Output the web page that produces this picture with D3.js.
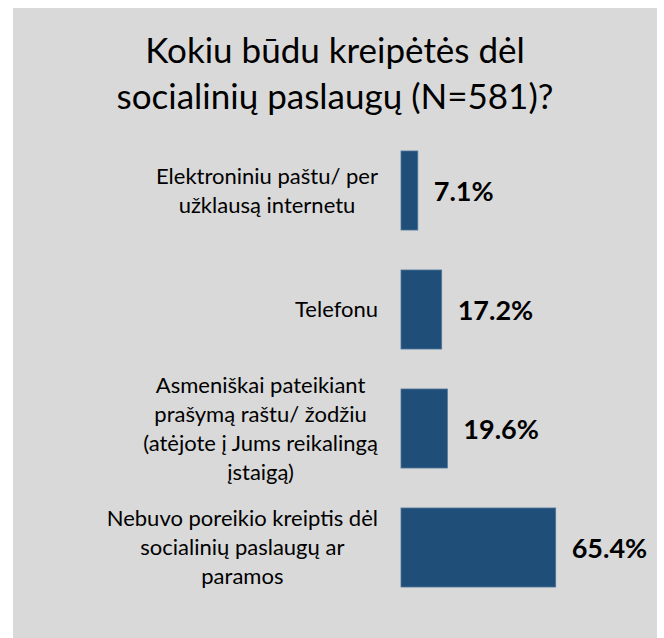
<!DOCTYPE html>
<html>
<head>
<meta charset="utf-8">
<script src="https://cdn.jsdelivr.net/npm/d3@7"></script>
<style>
  body { margin: 0; background: #fff; }
  svg text { font-family: Lato, "Open Sans", sans-serif; fill: #000; }
</style>
</head>
<body>
<div id="chart"></div>
<script>
// chart data
var titleLines = ["Kokiu būdu kreipėtės dėl", "socialinių paslaugų (N=581)?"];
var categories = [
  ["Elektroniniu paštu/ per", "užklausą internetu"],
  ["Telefonu"],
  ["Asmeniškai pateikiant", "prašymą raštu/ žodžiu", "(atėjote į Jums reikalingą", "įstaigą)"],
  ["Nebuvo poreikio kreiptis dėl", "socialinių paslaugų ar", "paramos"]
];
var values = [7.1, 17.2, 19.6, 65.4];

var width = 664;
var height = 638;

var svg = d3.select('#chart')
  .append('svg')
  .attr('width', width)
  .attr('height', height);

// grey panel
svg.append('rect')
  .attr('x', 13)
  .attr('y', 8)
  .attr('width', 644)
  .attr('height', 630)
  .attr('fill', '#d9d9d9');

// title
svg.append('g')
  .selectAll('text')
  .data(titleLines)
  .enter().append('text')
    .attr('x', 335)
    .attr('y', function(d, i) { return 63 + i * 46; })
    .attr('text-anchor', 'middle')
    .style('font-size', '35px')
    .text(function(d) { return d; });

var x = d3.scaleLinear()
  .domain([0, 100])
  .range([401, 637.5]);

var y = d3.scaleBand()
  .domain(d3.range(values.length))
  .range([131, 607])
  .paddingInner(0.336)
  .paddingOuter(0.168);

// bars
svg.append('g')
  .selectAll('rect')
  .data(values)
  .enter().append('rect')
    .attr('x', x(0))
    .attr('y', function(d, i) { return y(i); })
    .attr('width', function(d) { return x(d) - x(0); })
    .attr('height', y.bandwidth())
    .attr('fill', '#1f4e79')
    .attr('stroke', '#4f7499')
    .attr('stroke-width', 0.8);

// value labels
svg.append('g')
  .selectAll('text')
  .data(values)
  .enter().append('text')
    .attr('x', function(d) { return x(d) + 16; })
    .attr('y', function(d, i) { return y(i) + y.bandwidth() / 2 + 10.5; })
    .style('font-size', '27px')
    .style('font-weight', 'bold')
    .text(function(d) { return d.toFixed(1) + '%'; });

// category labels: block right aligned, lines centred inside the block
var labelRight = 378;
var lineHeight = 29;
var labelGroups = svg.append('g')
  .selectAll('g')
  .data(categories)
  .enter().append('g');

labelGroups.each(function(lines, i) {
  var g = d3.select(this);
  var mid = y(i) + y.bandwidth() / 2;
  var texts = g.selectAll('text')
    .data(lines)
    .enter().append('text')
      .attr('y', function(d, j) { return mid + (j - (lines.length - 1) / 2) * lineHeight + 7.5; })
      .attr('text-anchor', 'middle')
      .style('font-size', '22px')
      .text(function(d) { return d; });
  var maxW = d3.max(texts.nodes(), function(n) { return n.getComputedTextLength(); });
  texts.attr('x', labelRight - maxW / 2);
});
</script>
</body>
</html>
